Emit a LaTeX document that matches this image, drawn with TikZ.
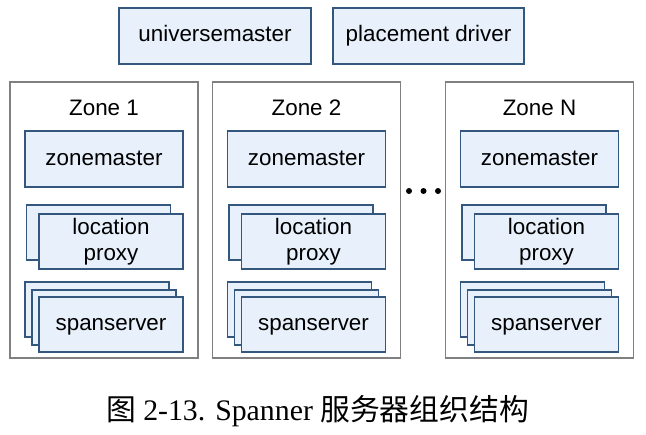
\documentclass[tikz,border=0pt]{standalone}
\usepackage{fontspec}
\setmainfont{Liberation Serif}
\setsansfont{Liberation Sans}
\newfontfamily\cjk{Noto Sans CJK SC}
\usepackage{tikz}
\usetikzlibrary{positioning}
\usepackage{xcolor}
\definecolor{boxfill}{HTML}{E8F1FB}
\definecolor{boxline}{HTML}{34587D}
\definecolor{zoneline}{HTML}{808080}
\tikzset{
  box/.style={draw=boxline, fill=boxfill, line width=0.95pt, minimum width=72pt,
    minimum height=27.5pt, inner sep=1pt, align=center,
    font=\sffamily\fontsize{11.2}{12.6}\selectfont},
  onebox/.style={box, text height=8.2pt, text depth=2.3pt},
  topbox/.style={onebox, minimum width=96pt, minimum height=28pt},
  zmbox/.style={onebox, minimum width=79pt, minimum height=28pt},
  zone/.style={draw=zoneline, line width=0.6pt, minimum width=94pt, minimum height=138pt},
  zonetitle/.style={font=\sffamily\fontsize{11.2}{12.6}\selectfont},
  dot/.style={circle, fill=black, inner sep=0pt, minimum size=3pt},
}

\begin{document}
\begin{tikzpicture}[x=0.5pt, y=-0.5pt]
\useasboundingbox (0,0) rectangle (646,434);

% top row
\node[topbox] (um) at (215,36) {universemaster};
\node[topbox, minimum width=95.5pt] (pd) at (428.5,36) {placement driver};

% Zone 1
\node[zone] (z1) at (104,220) {};
\node[zonetitle] (t1) at (104,108) {Zone 1};
\node[zmbox, below=24.5pt of z1.north] (zm1) {zonemaster};
\node[box, below=8pt of zm1, xshift=-2.75pt] (lpb1) {};
\node[box, xshift=6.25pt, yshift=-4.5pt] (lp1) at (lpb1) {location\\proxy};
\node[box, below=5.5pt of lp1, xshift=-7pt] (ssb1) {};
\node[box, xshift=3.5pt, yshift=-3.75pt] (ssm1) at (ssb1) {};
\node[onebox, xshift=7pt, yshift=-7.5pt] (ss1) at (ssb1) {spanserver};

% Zone 2
\node[zone] (z2) at (306.5,220) {};
\node[zonetitle] (t2) at (306.5,108) {Zone 2};
\node[zmbox, below=24.5pt of z2.north] (zm2) {zonemaster};
\node[box, below=8pt of zm2, xshift=-2.75pt] (lpb2) {};
\node[box, xshift=6.25pt, yshift=-4.5pt] (lp2) at (lpb2) {location\\proxy};
\node[box, below=5.5pt of lp2, xshift=-7pt] (ssb2) {};
\node[box, xshift=3.5pt, yshift=-3.75pt] (ssm2) at (ssb2) {};
\node[onebox, xshift=7pt, yshift=-7.5pt] (ss2) at (ssb2) {spanserver};

% Zone N
\node[zone] (zn) at (539.5,220) {};
\node[zonetitle] (tn) at (539.5,108) {Zone N};
\node[zmbox, below=24.5pt of zn.north] (zmn) {zonemaster};
\node[box, below=8pt of zmn, xshift=-2.75pt] (lpbn) {};
\node[box, xshift=6.25pt, yshift=-4.5pt] (lpn) at (lpbn) {location\\proxy};
\node[box, below=5.5pt of lpn, xshift=-7pt] (ssbn) {};
\node[box, xshift=3.5pt, yshift=-3.75pt] (ssmn) at (ssbn) {};
\node[onebox, xshift=7pt, yshift=-7.5pt] (ssn) at (ssbn) {spanserver};

% dots between zones
\node[dot] (d1) at (409,191) {};
\node[dot] (d2) at (423.5,191) {};
\node[dot] (d3) at (438,191) {};

% caption
\node[font=\fontsize{14.9}{18}\selectfont] (cap) at (317.5,411)
  {{\cjk 图} 2-13. Spanner {\cjk 服务器组织结构}};

\end{tikzpicture}
\end{document}
